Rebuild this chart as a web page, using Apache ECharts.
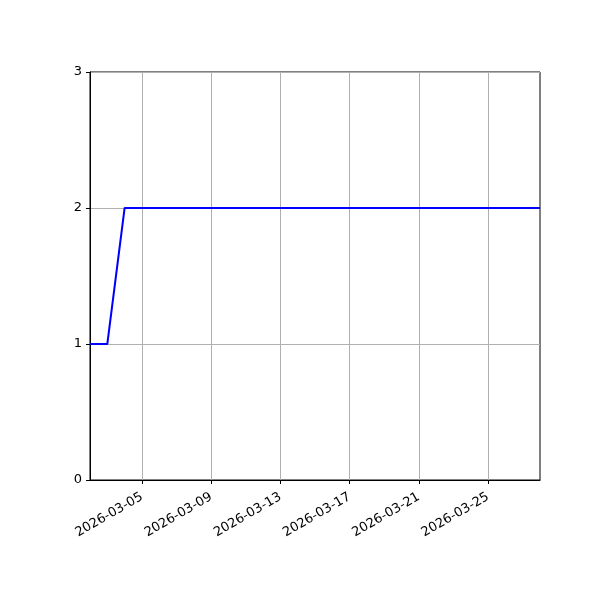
<!DOCTYPE html>
<html>
<head>
<meta charset="utf-8">
<script src="https://cdn.jsdelivr.net/npm/echarts@6/dist/echarts.min.js"></script>
<style>
  html, body { margin: 0; padding: 0; background: #fff; }
  #chart { width: 600px; height: 600px; }
</style>
</head>
<body>
<div id="chart"></div>
<script>
    // Daily values
    const dates = [
        '2026-03-02', '2026-03-03', '2026-03-04', '2026-03-05', '2026-03-06', '2026-03-07',
        '2026-03-08', '2026-03-09', '2026-03-10', '2026-03-11', '2026-03-12', '2026-03-13',
        '2026-03-14', '2026-03-15', '2026-03-16', '2026-03-17', '2026-03-18', '2026-03-19',
        '2026-03-20', '2026-03-21', '2026-03-22', '2026-03-23', '2026-03-24', '2026-03-25',
        '2026-03-26', '2026-03-27', '2026-03-28'
    ];
    const values = [
        1, 1, 2, 2, 2, 2,
        2, 2, 2, 2, 2, 2,
        2, 2, 2, 2, 2, 2,
        2, 2, 2, 2, 2, 2,
        2, 2, 2
    ];
    const tickDates = ['2026-03-05', '2026-03-09', '2026-03-13', '2026-03-17', '2026-03-21', '2026-03-25'];
    const yTicks = [0, 1, 2, 3];

    function toMs(s) {
        const p = s.split('-').map(Number);
        return Date.UTC(p[0], p[1] - 1, p[2]);
    }
    function fmt(ms) {
        const d = new Date(ms);
        const pad = n => n.toString().padStart(2, '0');
        return d.getUTCFullYear() + '-' + pad(d.getUTCMonth() + 1) + '-' + pad(d.getUTCDate());
    }

    const tickMs = tickDates.map(toMs);
    const seriesData = dates.map((d, i) => [toMs(d), values[i]]);

    const chart = echarts.init(document.getElementById('chart'));
    const textColor = '#000';
    const gridColor = '#b0b0b0';

    chart.setOption({
        animation: false,
        grid: {
            left: 90, right: 60, top: 72, bottom: 120,
            show: true, borderColor: '#000', borderWidth: 1,
            containLabel: false
        },
        xAxis: {
            type: 'value',
            min: toMs(dates[0]),
            max: toMs(dates[dates.length - 1]),
            axisLine: { show: true, onZero: false, lineStyle: { color: '#000' } },
            axisTick: {
                show: true, inside: false, length: 4,
                customValues: tickMs,
                lineStyle: { color: '#000' }
            },
            axisLabel: {
                customValues: tickMs,
                rotate: 30,
                color: textColor,
                fontFamily: 'DejaVu Sans',
                fontSize: 13,
                margin: 16,
                formatter: v => fmt(v)
            },
            splitLine: { show: true, lineStyle: { color: gridColor, width: 1 } }
        },
        yAxis: {
            type: 'value',
            min: 0, max: 3, interval: 1,
            axisLine: { show: true, lineStyle: { color: '#000' } },
            axisTick: { show: true, inside: false, length: 4, lineStyle: { color: '#000' } },
            axisLabel: {
                color: textColor,
                fontFamily: 'DejaVu Sans',
                fontSize: 13,
                margin: 8,
                customValues: yTicks
            },
            splitLine: { show: true, lineStyle: { color: gridColor, width: 1 } }
        },
        series: [{
            type: 'line',
            data: seriesData,
            showSymbol: false,
            lineStyle: { color: '#0000ff', width: 2 },
            itemStyle: { color: '#0000ff' }
        }]
    });
</script>
</body>
</html>
